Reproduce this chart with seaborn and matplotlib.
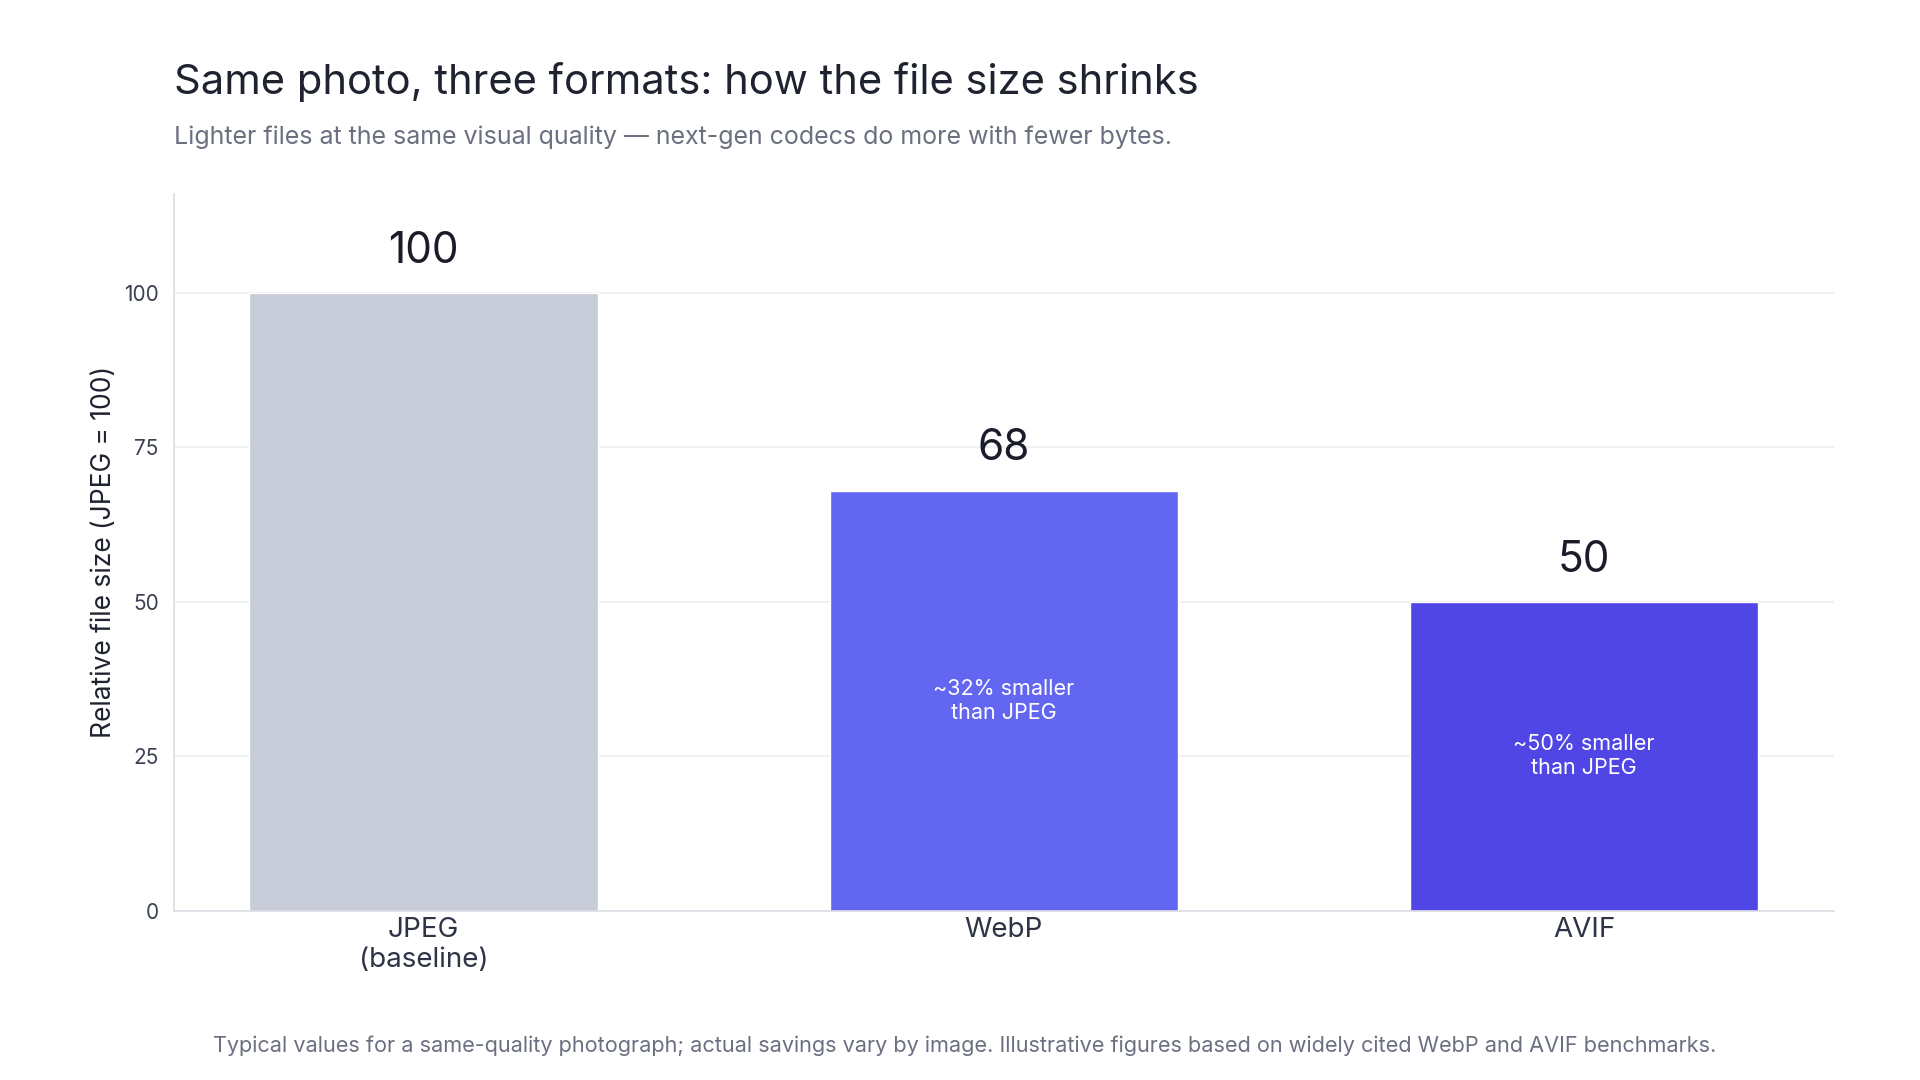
import matplotlib
matplotlib.use("Agg")
import matplotlib.pyplot as plt
import pandas as pd
import seaborn as sns

FORMATS = ["JPEG\n(baseline)", "WebP", "AVIF"]
SIZES = [100, 68, 50]
INSIDE_NOTES = ["", "~32% smaller\nthan JPEG", "~50% smaller\nthan JPEG"]
BAR_COLORS = ["#C8CBD8", "#6366F1", "#4F46E5"]
Y_TICKS = [0, 25, 50, 75, 100]

TITLE = "Same photo, three formats: how the file size shrinks"
SUBTITLE = "Lighter files at the same visual quality \u2014 next-gen codecs do more with fewer bytes."
FOOTNOTE = ("Typical values for a same-quality photograph; actual savings vary by image. "
            "Illustrative figures based on widely cited WebP and AVIF benchmarks.")

sns.set_theme(style="white")
plt.rcParams["font.family"] = ["Inter", "DejaVu Sans"]

df = pd.DataFrame({"format": FORMATS, "size": SIZES})

fig = plt.figure(figsize=(19.2, 10.8), dpi=100)
fig.patch.set_facecolor("white")
ax = fig.add_axes([0.0906, 0.1565, 0.8644, 0.664])

sns.barplot(data=df, x="format", y="size", hue="format", palette=BAR_COLORS,
            legend=False, width=0.6, saturation=1, ax=ax)

ax.set_xlim(-0.43, 2.43)
ax.set_ylim(0, 116)
ax.set_yticks(Y_TICKS)
ax.grid(axis="y", color="#ECEEF2", linewidth=1.2)
ax.set_axisbelow(True)

for name in ["top", "right"]:
    ax.spines[name].set_visible(False)
for name in ["left", "bottom"]:
    ax.spines[name].set_color("#DADDE4")
    ax.spines[name].set_linewidth(1.2)

ax.tick_params(axis="y", length=5, width=1, color="#9AA0AE", labelsize=15,
               labelcolor="#3B4153", pad=6)
ax.tick_params(axis="x", length=0, labelsize=20, labelcolor="#2E3345", pad=4)
ax.set_xlabel("")
ax.set_ylabel("Relative file size (JPEG = 100)", fontsize=19, color="#1F2330", labelpad=5)

# value labels above bars, notes inside bars
for i, (val, note) in enumerate(zip(SIZES, INSIDE_NOTES)):
    ax.annotate(str(val), (i, val), xytext=(0, 30), textcoords="offset points",
                ha="center", va="center", fontsize=30.5, color="#1A1D29")
    if note:
        ax.text(i, val / 2, note, ha="center", va="center", fontsize=15.5,
                color="white", linespacing=1.25)

fig.text(174 / 1920, 1 - 82 / 1080, TITLE, fontsize=30, color="#1F2330",
         ha="left", va="center")
fig.text(174 / 1920, 1 - 137 / 1080, SUBTITLE, fontsize=18, color="#6B7080",
         ha="left", va="center")
fig.text(965 / 1920, 1 - 1046 / 1080, FOOTNOTE, fontsize=15.6, color="#6B7080",
         ha="center", va="center")

fig.savefig("out.png", dpi=100, facecolor="white")
